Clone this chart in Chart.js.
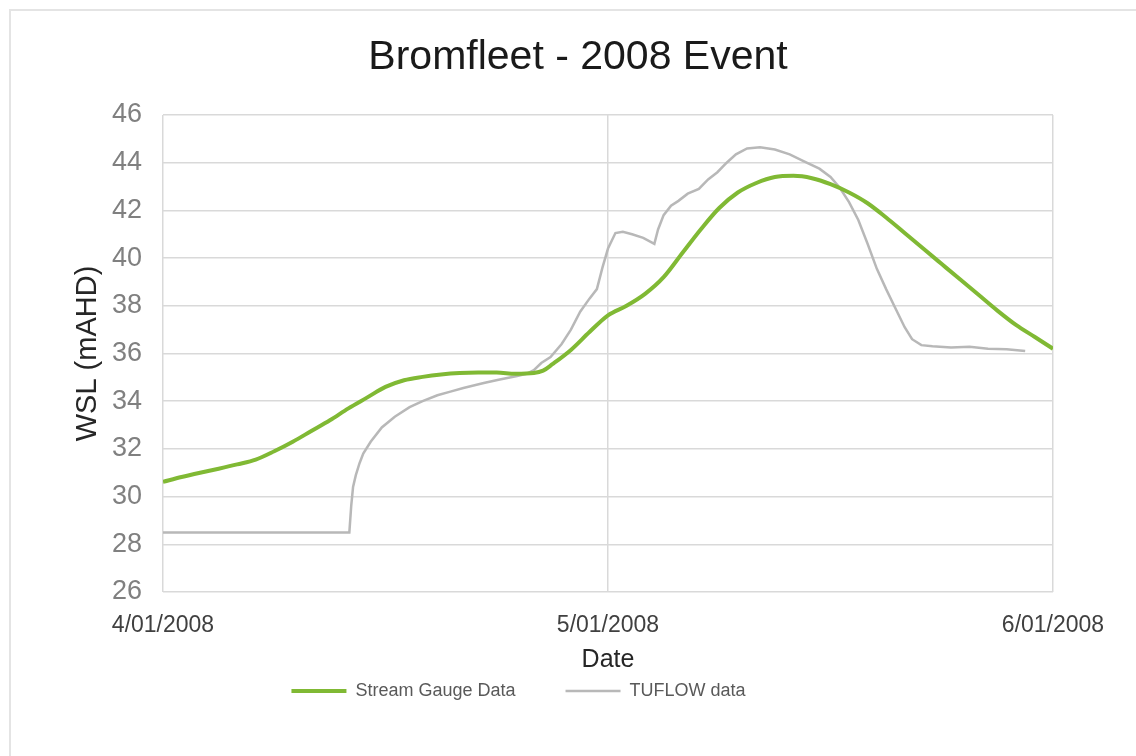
<!DOCTYPE html>
<html><head><meta charset="utf-8">
<script src="https://cdn.jsdelivr.net/npm/chart.js@4"></script>
<style>html,body{margin:0;padding:0;background:#fff;}#wrap{width:1136px;height:756px;}</style>
</head><body><div id="wrap"><canvas id="c" width="1136" height="756"></canvas></div>
<script>
// x values are hours after 4/01/2008 00:00
const xTickLabels = ['4/01/2008', '5/01/2008', '6/01/2008'];
const gaugeHours = [0,1,2,3,4,5,6,7,8,9,10,11,12,13,14,15,16,17,18,19,20,20.5,21,22,23,24,25,26,27,28,29,30,31,32,33,34,35,36,37,38,39,40,41,42,43,44,45,46,47,48];
const gaugeLevels = [30.62,30.82,31.0,31.17,31.35,31.55,31.9,32.3,32.75,33.2,33.7,34.15,34.6,34.88,35.02,35.12,35.18,35.2,35.2,35.15,35.18,35.28,35.55,36.15,36.9,37.6,38.0,38.5,39.2,40.2,41.2,42.1,42.75,43.15,43.4,43.45,43.35,43.1,42.75,42.3,41.7,41.05,40.4,39.75,39.1,38.45,37.8,37.2,36.7,36.2];
const tuflowHours = [0,10.05,10.15,10.25,10.4,10.6,10.8,11.2,11.8,12.5,13.3,14,14.8,15.5,16.2,17.3,18.1,19.1,19.6,20.0,20.4,20.9,21.5,22.0,22.5,23.0,23.4,23.7,24.0,24.4,24.8,25.3,25.9,26.5,26.7,27.0,27.4,27.8,28.3,28.9,29.4,29.9,30.4,30.9,31.5,32.2,33.0,33.8,34.6,35.4,36.0,36.5,37.0,37.5,38.0,38.5,39.0,39.5,40.0,40.4,40.9,41.5,42.5,43.5,44.5,45.5,46.5];
const tuflowLevels = [28.5,28.5,29.6,30.4,30.9,31.4,31.8,32.3,32.9,33.35,33.75,34.0,34.25,34.4,34.55,34.76,34.9,35.06,35.15,35.3,35.6,35.85,36.4,37.0,37.75,38.3,38.7,39.6,40.4,41.05,41.1,41.0,40.85,40.6,41.2,41.8,42.2,42.4,42.7,42.9,43.3,43.6,44.0,44.35,44.6,44.65,44.55,44.35,44.05,43.75,43.4,42.95,42.35,41.6,40.6,39.55,38.7,37.9,37.1,36.6,36.35,36.3,36.25,36.28,36.2,36.18,36.1];

const FONT = "'Liberation Sans', Arial, sans-serif";

const frame = {
  id: 'frame',
  beforeDraw(chart) {
    const ctx = chart.ctx;
    ctx.save();
    ctx.fillStyle = '#fff';
    ctx.fillRect(0, 0, chart.width, chart.height);
    ctx.strokeStyle = '#e4e4e4';
    ctx.lineWidth = 2;
    ctx.beginPath();
    ctx.moveTo(10, chart.height);
    ctx.lineTo(10, 10);
    ctx.lineTo(chart.width, 10);
    ctx.stroke();
    ctx.restore();
  },
  afterLayout(chart) {
    if (chart.titleBlock) { chart.titleBlock.left += 51.5; chart.titleBlock.right += 51.5; }
    if (chart.legend) { chart.legend.left -= 8; chart.legend.right -= 8; }
  }
};

new Chart(document.getElementById('c'), {
  type: 'line',
  data: {
    datasets: [
      {
        label: 'Stream Gauge Data',
        data: gaugeHours.map((h, i) => ({ x: h, y: gaugeLevels[i] })),
        borderColor: '#80b934',
        backgroundColor: '#80b934',
        borderWidth: 4,
        pointRadius: 0,
        pointStyle: 'line',
        cubicInterpolationMode: 'monotone'
      },
      {
        label: 'TUFLOW data',
        data: tuflowHours.map((h, i) => ({ x: h, y: tuflowLevels[i] })),
        borderColor: '#b8b8b8',
        backgroundColor: '#b8b8b8',
        borderWidth: 2.5,
        pointRadius: 0,
        pointStyle: 'line',
        tension: 0
      }
    ]
  },
  options: {
    responsive: false,
    animation: false,
    devicePixelRatio: 1,
    layout: { padding: { left: 0, right: 83, top: 0, bottom: 46 } },
    plugins: {
      tooltip: { enabled: false },
      title: {
        display: true,
        text: 'Bromfleet - 2008 Event',
        color: '#1a1a1a',
        font: { family: FONT, size: 41, weight: 'normal' },
        padding: { top: 33.4, bottom: 32.4 }
      },
      legend: {
        position: 'bottom',
        labels: {
          usePointStyle: true,
          pointStyleWidth: 55,
          padding: 50,
          color: '#595959',
          font: { family: FONT, size: 18 }
        }
      }
    },
    scales: {
      x: {
        type: 'linear',
        min: 0, max: 48,
        afterFit(s) { s.height = 40; },
        afterBuildTicks(s) { s.ticks = xTickLabels.map((_, i) => ({ value: i * 24 })); },
        ticks: {
          autoSkip: false, maxRotation: 0, padding: 20,
          color: '#404040',
          font: { family: FONT, size: 23 },
          callback: (v) => xTickLabels[Math.round(v / 24)]
        },
        grid: { color: '#d9d9d9', lineWidth: 1.5, drawTicks: false },
        border: { display: false },
        title: {
          display: true, text: 'Date', color: '#262626',
          font: { family: FONT, size: 25 },
          padding: { top: 0, bottom: -43 }
        }
      },
      y: {
        min: 26, max: 46,
        afterFit(s) { s.width = 163; },
        ticks: {
          stepSize: 2, padding: 21,
          color: '#808080',
          font: { family: FONT, size: 27 }
        },
        grid: { color: '#d9d9d9', lineWidth: 1.5, drawTicks: false },
        border: { display: false },
        title: {
          display: true, text: 'WSL (mAHD)', color: '#262626',
          font: { family: FONT, size: 29 },
          padding: { top: 70.6, bottom: 0 }
        }
      }
    }
  },
  plugins: [frame]
});
</script>
</body></html>
